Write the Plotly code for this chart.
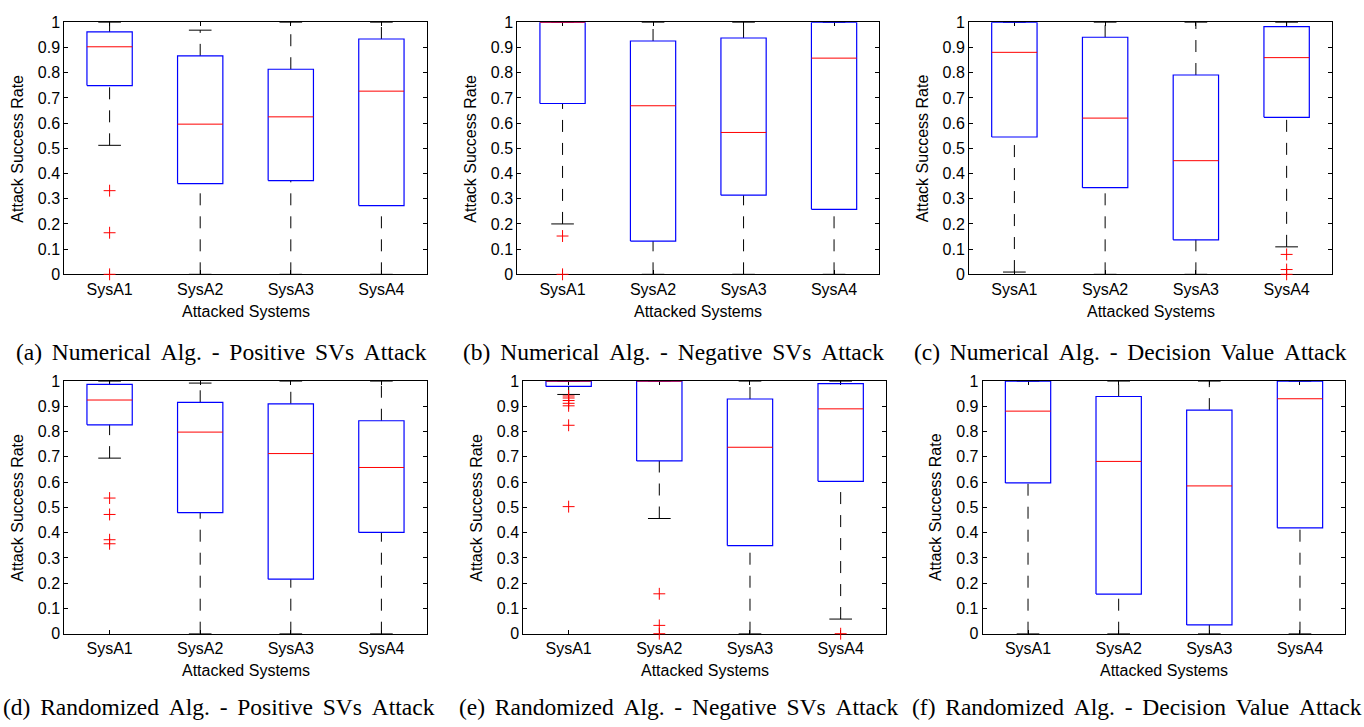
import plotly.graph_objects as go

# ---------------- data ----------------
systems = ["SysA1", "SysA2", "SysA3", "SysA4"]
y_ticks = [0, 0.1, 0.2, 0.3, 0.4, 0.5, 0.6, 0.7, 0.8, 0.9, 1]
y_tick_text = ["0", "0.1", "0.2", "0.3", "0.4", "0.5", "0.6", "0.7", "0.8", "0.9", "1"]

captions = [
    "(a) Numerical Alg. - Positive SVs Attack",
    "(b) Numerical Alg. - Negative SVs Attack",
    "(c) Numerical Alg. - Decision Value Attack",
    "(d) Randomized Alg. - Positive SVs Attack",
    "(e) Randomized Alg. - Negative SVs Attack",
    "(f) Randomized Alg. - Decision Value Attack",
]

lower_whisker = [
    [0.512, 0.0, 0.0, 0.0],
    [0.200, 0.0, 0.0, 0.0],
    [0.009, 0.0, 0.0, 0.109],
    [0.695, 0.0, 0.0, 0.0],
    [0.947, 0.456, 0.0, 0.058],
    [0.0, 0.0, 0.0, 0.0],
]
q1 = [
    [0.749, 0.360, 0.372, 0.273],
    [0.678, 0.132, 0.314, 0.258],
    [0.545, 0.344, 0.137, 0.623],
    [0.827, 0.479, 0.216, 0.401],
    [0.979, 0.684, 0.349, 0.603],
    [0.597, 0.157, 0.035, 0.419],
]
median = [
    [0.903, 0.596, 0.625, 0.727],
    [1.000, 0.669, 0.563, 0.858],
    [0.881, 0.620, 0.451, 0.860],
    [0.925, 0.798, 0.713, 0.658],
    [1.000, 1.000, 0.738, 0.890],
    [0.881, 0.682, 0.585, 0.930],
]
q3 = [
    [0.962, 0.867, 0.814, 0.934],
    [1.000, 0.926, 0.938, 1.000],
    [1.000, 0.941, 0.791, 0.983],
    [0.987, 0.916, 0.910, 0.843],
    [1.000, 1.000, 0.929, 0.990],
    [1.000, 0.939, 0.885, 1.000],
]
upper_whisker = [
    [1.0, 0.969, 1.0, 1.0],
    [1.0, 1.0, 1.0, 1.0],
    [1.0, 1.0, 1.0, 1.0],
    [1.0, 0.992, 1.0, 1.0],
    [1.0, 1.0, 1.0, 1.0],
    [1.0, 1.0, 1.0, 1.0],
]
outliers = [
    [[0.332, 0.165, 0.0], [], [], []],
    [[0.152, 0.0], [], [], []],
    [[], [], [], [0.079, 0.019, 0.0]],
    [[0.537, 0.472, 0.372, 0.356], [], [], []],
    [[0.941, 0.933, 0.923, 0.912, 0.902, 0.825, 0.503], [0.158, 0.033, 0.0], [], [0.0]],
    [[], [], [], []],
]

# ---------------- layout constants (pixels) ----------------
W, H = 1364, 727
plot_x = [(64.3, 426.7), (517.3, 879.3), (969.0, 1332.0),
          (64.3, 426.7), (523.3, 886.0), (982.7, 1345.3)]
plot_y = [(14.7, 272.7)] * 3 + [(382.0, 640.7)] * 3
caption_cx = [221, 673, 1130, 218.5, 678, 1136.5]
caption_baseline = [359, 359, 359, 723, 723, 723]

BOX_HALF = 0.25
CAP_HALF = 0.125
BLUE = "#0000FF"
RED = "#FF0000"
BLACK = "#000000"
SANS = "Liberation Sans, Arial, Helvetica, sans-serif"
SERIF = "Liberation Serif, Times New Roman, serif"
GAP = "\u00a0\u2006"   # wide (justified) word spacing of the captions

fig = go.Figure()

for k in range(6):
    suffix = "" if k == 0 else str(k + 1)
    xa, ya = "x" + suffix, "y" + suffix
    xs = list(range(1, len(systems) + 1))

    # whiskers (dashed): upper from q3 to whisker end, lower from whisker end to q1
    for i, x in enumerate(xs):
        fig.add_trace(go.Scatter(
            x=[x, x], y=[q3[k][i], upper_whisker[k][i]], mode="lines",
            line=dict(color=BLACK, width=1, dash="12px,11px"),
            xaxis=xa, yaxis=ya, showlegend=False, hoverinfo="skip", cliponaxis=False))
        fig.add_trace(go.Scatter(
            x=[x, x], y=[lower_whisker[k][i], q1[k][i]], mode="lines",
            line=dict(color=BLACK, width=1, dash="12px,11px"),
            xaxis=xa, yaxis=ya, showlegend=False, hoverinfo="skip", cliponaxis=False))

    # caps
    cx, cy = [], []
    for i, x in enumerate(xs):
        for v in (upper_whisker[k][i], lower_whisker[k][i]):
            cx += [x - CAP_HALF, x + CAP_HALF, None]
            cy += [v, v, None]
    fig.add_trace(go.Scatter(x=cx, y=cy, mode="lines", line=dict(color=BLACK, width=1),
                             xaxis=xa, yaxis=ya, showlegend=False, hoverinfo="skip",
                             cliponaxis=False))

    # boxes
    bx, by = [], []
    for i, x in enumerate(xs):
        bx += [x - BOX_HALF, x + BOX_HALF, x + BOX_HALF, x - BOX_HALF, x - BOX_HALF, None]
        by += [q1[k][i], q1[k][i], q3[k][i], q3[k][i], q1[k][i], None]
    fig.add_trace(go.Scatter(x=bx, y=by, mode="lines", line=dict(color=BLUE, width=1.2),
                             xaxis=xa, yaxis=ya, showlegend=False, hoverinfo="skip",
                             cliponaxis=False))

    # medians
    mx, my = [], []
    for i, x in enumerate(xs):
        mx += [x - BOX_HALF, x + BOX_HALF, None]
        my += [median[k][i], median[k][i], None]
    fig.add_trace(go.Scatter(x=mx, y=my, mode="lines", line=dict(color=RED, width=1),
                             xaxis=xa, yaxis=ya, showlegend=False, hoverinfo="skip",
                             cliponaxis=False))

    # outliers
    ox, oy = [], []
    for i, x in enumerate(xs):
        for v in outliers[k][i]:
            ox.append(x)
            oy.append(v)
    if ox:
        fig.add_trace(go.Scatter(
            x=ox, y=oy, mode="markers",
            marker=dict(symbol="cross-thin", size=8.5, color=RED,
                        line=dict(color=RED, width=1)),
            xaxis=xa, yaxis=ya, showlegend=False, hoverinfo="skip", cliponaxis=False))

    x0, x1 = plot_x[k]
    y0, y1 = plot_y[k]
    common = dict(showline=True, linecolor=BLACK, linewidth=1, mirror="ticks",
                  ticks="inside", ticklen=4, tickcolor=BLACK, tickwidth=1,
                  showgrid=False, zeroline=False, layer="below traces",
                  tickfont=dict(family=SANS, size=16, color=BLACK), fixedrange=True)
    fig.layout["xaxis" + suffix] = dict(
        domain=[x0 / W, x1 / W], anchor=ya, range=[0.5, 4.5],
        tickmode="array", tickvals=xs, ticktext=systems, **common)
    fig.layout["yaxis" + suffix] = dict(
        domain=[1 - y1 / H, 1 - y0 / H], anchor=xa, range=[0, 1],
        tickmode="array", tickvals=y_ticks, ticktext=y_tick_text, **common)

    # axis titles
    fig.add_annotation(text="Attacked Systems", xref=xa + " domain", yref=ya + " domain",
                       x=0.5, y=0, xanchor="center", yanchor="middle", yshift=-37,
                       showarrow=False, font=dict(family=SANS, size=16, color=BLACK))
    fig.add_annotation(text="Attack Success Rate", xref=xa + " domain", yref=ya + " domain",
                       x=0, y=0.5, xanchor="center", yanchor="middle", xshift=-47,
                       textangle=-90, showarrow=False,
                       font=dict(family=SANS, size=16, color=BLACK))
    # caption
    fig.add_annotation(text=captions[k].replace(" ", GAP), xref="paper", yref="paper",
                       x=caption_cx[k] / W, y=1 - (caption_baseline[k] - 7) / H,
                       xanchor="center", yanchor="middle", showarrow=False,
                       font=dict(family=SERIF, size=23.5, color=BLACK))

fig.update_layout(width=W, height=H, margin=dict(l=0, r=0, t=0, b=0),
                  paper_bgcolor="white", plot_bgcolor="white", showlegend=False)

fig.write_html("out.html")
